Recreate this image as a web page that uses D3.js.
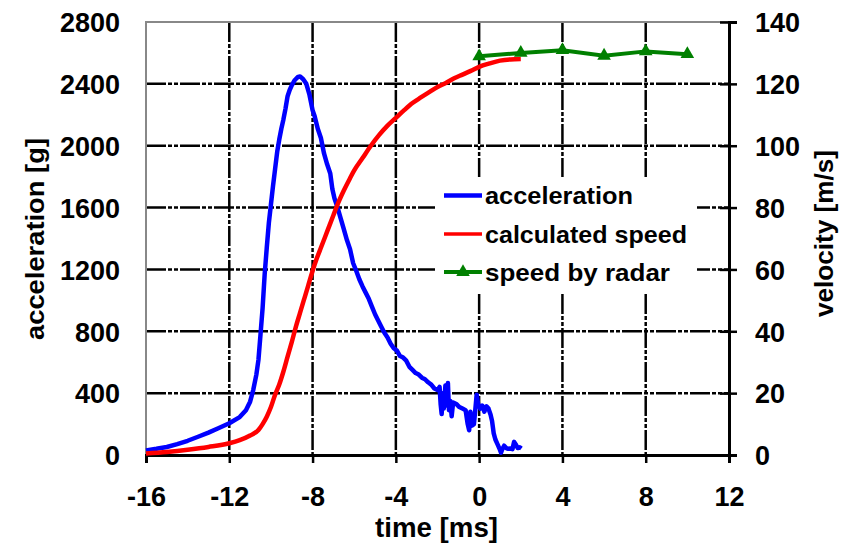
<!DOCTYPE html>
<html><head><meta charset="utf-8">
<script src="https://cdn.jsdelivr.net/npm/d3@7"></script>
<style>
body{margin:0;background:#fff}
text{font-family:"Liberation Sans",Arial,sans-serif;font-weight:bold;fill:#000}
</style>
</head><body>
<svg id="c" width="843" height="546"></svg>
<script>
// ---- tick labels ----
const timeTicks = [-16,-12,-8,-4,0,4,8,12];
const accTicks = [0,400,800,1200,1600,2000,2400,2800];
const velTicks = [0,20,40,60,80,100,120,140];

// ---- acceleration [g] vs time [ms] ----
const accTime = [-16,-15.5,-15,-14.5,-14,-13.5,-13,-12.5,-12,-11.5,-11.2,-11.0,-10.85,-10.7,-10.6,-10.5,-10.4,-10.3,-10.2,-10.1,-10.0,-9.9,-9.8,-9.7,-9.6,-9.5,-9.4,-9.3,-9.2,-9.1,-9.0,-8.85,-8.7,-8.6,-8.45,-8.3,-8.15,-8.0,-7.9,-7.75,-7.6,-7.45,-7.3,-7.15,-7.05,-6.95,-6.8,-6.65,-6.5,-6.35,-6.2,-6.05,-5.9,-5.75,-5.6,-5.45,-5.3,-5.15,-5.0,-4.85,-4.7,-4.55,-4.4,-4.25,-4.1,-3.95,-3.8,-3.65,-3.5,-3.35,-3.2,-3.05,-2.9,-2.75,-2.6,-2.45,-2.3,-2.15,-2.0,-1.9,-1.85,-1.8,-1.75,-1.7,-1.62,-1.55,-1.5,-1.45,-1.38,-1.32,-1.25,-1.1,-0.95,-0.8,-0.65,-0.55,-0.48,-0.42,-0.35,-0.25,-0.18,-0.12,-0.05,0.05,0.15,0.25,0.35,0.45,0.55,0.62,0.7,0.78,0.88,0.98,1.05,1.12,1.2,1.3,1.4,1.5,1.6,1.68,1.75,1.85,1.95,2.03];
const accValue = [30,40,52,70,92,118,145,175,205,245,290,345,420,520,614,780,950,1170,1340,1500,1620,1740,1850,1960,2040,2110,2170,2240,2320,2360,2390,2425,2445,2448,2430,2400,2330,2230,2190,2110,2050,1950,1880,1820,1720,1660,1600,1530,1460,1390,1330,1240,1190,1135,1090,1050,1010,960,910,870,830,790,760,720,690,675,640,630,610,570,550,530,520,500,490,470,455,430,420,440,330,265,400,300,450,320,465,290,350,250,340,330,310,300,290,200,160,280,190,200,300,390,330,300,320,280,315,300,260,220,140,100,70,40,15,40,60,45,40,42,38,85,70,45,50,42];

// ---- calculated speed [m/s] vs time [ms] ----
const speedTime = [-16,-15,-14,-13,-12,-11.5,-11,-10.6,-10.4,-10.2,-10.0,-9.8,-9.6,-9.4,-9.2,-9.0,-8.8,-8.6,-8.4,-8.2,-8.0,-7.8,-7.6,-7.4,-7.2,-7.0,-6.8,-6.5,-6.2,-6.0,-5.6,-5.2,-4.8,-4.4,-4.0,-3.6,-3.2,-2.8,-2.4,-2.0,-1.6,-1.2,-0.8,-0.4,0,0.5,1.0,1.5,2.0];
const speedValue = [0.5,1.0,1.7,2.6,3.8,4.8,6.3,8.1,10,12.4,15.5,19.5,22.8,27,31.8,36.5,41.5,46,50.5,55,59.5,63.5,67,70.5,74,77.5,81,85.5,89.5,92,96,100,103.5,106.5,109,111.5,113.8,115.6,117.3,119,120.3,121.8,123,124.2,125.5,126.6,127.5,127.9,128.0];

// ---- speed by radar [m/s] ----
const radarTime = [0,2,4,6,8,10];
const radarValue = [128.9,130.0,130.9,129.1,130.5,129.6];

const legendLabels = ["acceleration","calculated speed","speed by radar"];
const seriesColors = ["#0000ff","#ff0000","#008000"];

const svg = d3.select("#c");
const L=146, R=729, T=22, B=455;
const x = d3.scaleLinear().domain([-16,12]).range([L,R]);
const yA = d3.scaleLinear().domain([0,2800]).range([B,T]);
const yV = d3.scaleLinear().domain([0,140]).range([B,T]);

const dash = "20,2,4,2,4,2";
// gridlines
svg.append("g").selectAll("line").data(accTicks.slice(1,-1)).join("line")
  .attr("x1",L).attr("x2",R).attr("y1",d=>yA(d)).attr("y2",d=>yA(d))
  .attr("stroke","#000").attr("stroke-width",2.5).attr("stroke-dasharray",dash);
svg.append("g").selectAll("line").data(timeTicks.slice(1,-1)).join("line")
  .attr("y1",T).attr("y2",B).attr("x1",d=>x(d)).attr("x2",d=>x(d))
  .attr("stroke","#000").attr("stroke-width",2.5).attr("stroke-dasharray",dash);

// plot border (gray top/left)
svg.append("path").attr("d",`M${L},${B}V${T}H${R}`).attr("fill","none")
  .attr("stroke","#888").attr("stroke-width",2);

const fmt = d => String(d);
// axes
const gx = svg.append("g").attr("transform",`translate(0,${B})`)
  .call(d3.axisBottom(x).tickValues(timeTicks).tickSize(8).tickFormat(fmt));
gx.select(".domain").attr("stroke","#000").attr("stroke-width",3);
gx.selectAll(".tick line").attr("stroke","#000").attr("stroke-width",2.5);
gx.selectAll(".tick text").attr("y",51).attr("dy",0).style("font-size","27px");

const gl = svg.append("g").attr("transform",`translate(${L},0)`)
  .call(d3.axisLeft(yA).tickValues(accTicks).tickSize(0).tickFormat(fmt));
gl.select(".domain").remove();
gl.selectAll(".tick text").attr("x",-26).attr("dy","0.36em").style("font-size","27px");

const gr = svg.append("g").attr("transform",`translate(${R},0)`)
  .call(d3.axisRight(yV).tickValues(velTicks).tickSize(8).tickFormat(fmt));
gr.select(".domain").attr("stroke","#000").attr("stroke-width",3);
gr.selectAll(".tick line").attr("x1",-9).attr("x2",8).attr("stroke","#000").attr("stroke-width",2.5);
gr.selectAll(".tick text").attr("x",26).attr("dy","0.36em").style("font-size","27px");
svg.selectAll(".tick text").style("font-family","'Liberation Sans',Arial,sans-serif").style("font-weight","bold").attr("fill","#000");

// series
const accLine = d3.line().x((d,i)=>x(accTime[i])).y(d=>yA(d));
svg.append("path").attr("d",accLine(accValue)).attr("fill","none")
  .attr("stroke",seriesColors[0]).attr("stroke-width",4.5).attr("stroke-linejoin","round");
const spLine = d3.line().x((d,i)=>x(speedTime[i])).y(d=>yV(d)).curve(d3.curveMonotoneX);
svg.append("path").attr("d",spLine(speedValue)).attr("fill","none")
  .attr("stroke",seriesColors[1]).attr("stroke-width",4.5);
const rdLine = d3.line().x((d,i)=>x(radarTime[i])).y(d=>yV(d));
svg.append("path").attr("d",rdLine(radarValue)).attr("fill","none")
  .attr("stroke",seriesColors[2]).attr("stroke-width",4);
const tri = d3.symbol().type(d3.symbolTriangle).size(80);
svg.append("g").selectAll("path").data(radarValue).join("path")
  .attr("d",tri).attr("fill",seriesColors[2])
  .attr("transform",(d,i)=>`translate(${x(radarTime[i])},${yV(d)})`);

// legend
const lg = svg.append("g");
lg.append("rect").attr("x",435).attr("y",177).attr("width",262).attr("height",115).attr("fill","#fff");
const rowsY = [195.5,234,272];
const textLens = [148,202,185];
const lineW = [4.5,3.5,4];
legendLabels.forEach((lab,i)=>{
  lg.append("line").attr("x1",444).attr("x2",482).attr("y1",rowsY[i]).attr("y2",rowsY[i])
    .attr("stroke",seriesColors[i]).attr("stroke-width",lineW[i]);
  if(i===2) lg.append("path").attr("d",tri).attr("fill",seriesColors[2])
    .attr("transform",`translate(463,${rowsY[i]})`);
  lg.append("text").attr("x",485).attr("y",rowsY[i]+8.5).style("font-size","24px")
    .attr("textLength",textLens[i]).attr("lengthAdjust","spacingAndGlyphs").text(lab);
});

// axis titles
svg.append("text").attr("x",436.5).attr("y",537).attr("text-anchor","middle")
  .style("font-size","27px").attr("textLength",123).attr("lengthAdjust","spacingAndGlyphs").text("time [ms]");
svg.append("text").attr("transform","translate(44,239) rotate(-90)").attr("text-anchor","middle")
  .style("font-size","26px").attr("textLength",202).attr("lengthAdjust","spacingAndGlyphs").text("acceleration [g]");
svg.append("text").attr("transform","translate(833,233.5) rotate(-90)").attr("text-anchor","middle")
  .style("font-size","26px").attr("textLength",167).attr("lengthAdjust","spacingAndGlyphs").text("velocity [m/s]");
</script>
</body></html>
